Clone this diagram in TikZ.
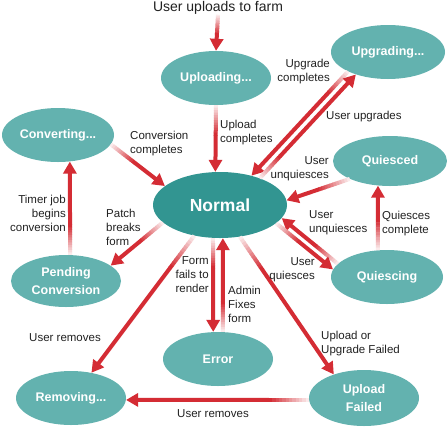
\documentclass[tikz,border=0pt]{standalone}
\usepackage{fontspec}
\setmainfont{Liberation Sans}
\usetikzlibrary{shapes.geometric,arrows.meta,calc}
\definecolor{tealL}{RGB}{99,178,175}
\definecolor{tealD}{RGB}{50,149,145}
\definecolor{arrred}{RGB}{212,44,52}
\definecolor{lbl}{RGB}{34,34,34}
\tikzset{
  st/.style={ellipse, fill=tealL, text=white, font=\bfseries\fontsize{12.5}{18}\selectfont,
    align=center, inner sep=0pt, minimum width=110pt, minimum height=54pt},
  lb/.style={text=lbl, font=\fontsize{11.5}{14}\selectfont, inner sep=0pt},
  arrline/.style={line width=4pt, draw=arrred, -{Triangle[length=12pt,width=13pt]}}
}
% fading arrow: optional fade length, start, end
\newcommand{\farr}[3][30]{%
  \foreach \i in {0,...,11}{%
    \pgfmathsetmacro{\ta}{#1*\i/12}%
    \pgfmathsetmacro{\tb}{#1*(\i+1)/12+0.4}%
    \pgfmathtruncatemacro{\pc}{10+90*\i/11}%
    \draw[line width=4pt, draw=arrred!\pc!white] ($(#2)!\ta pt!(#3)$) -- ($(#2)!\tb pt!(#3)$);
  }%
  \draw[arrline] ($(#2)!#1pt!(#3)$) -- (#3);
}
\begin{document}
\begin{tikzpicture}[x=1pt,y=-1pt]
\useasboundingbox[fill=white] (0,0) rectangle (447,432);
% states
\node[st] (up) at (216,78) {Uploading...};
\node[st, minimum width=114pt] (upg) at (388,52) {Upgrading...};
\node[st, minimum width=112pt] (conv) at (58,135) {Converting...};
\node[st, fill=tealD, minimum width=134pt, minimum height=66pt, font=\bfseries\fontsize{17.5}{20}\selectfont] (norm) at (220,205) {Normal};
\node[st, minimum width=114pt, minimum height=50pt] (quies) at (390,161) {Quiesced};
\node[st, minimum height=52pt] (pend) at (66,281) {Pending\\Conversion};
\node[st, minimum width=112pt] (qing) at (387,277) {Quiescing};
\node[st] (err) at (218,359) {Error};
\node[st] (rem) at (71,398) {Removing...};
\node[st, minimum height=56pt] (fail) at (364,398) {Upload\\Failed};
% title
\node[lb, font=\fontsize{14}{16}\selectfont] (ttl) at (218,8) {User uploads to farm};
% connectors
\farr[20]{ttl.south}{up.north}
\farr{up.south}{norm.98}
\farr{conv.350}{norm.161}
\farr{pend.81}{conv.294}
\farr{norm.197}{pend.19}
\farr[40]{norm.230}{rem.51}
\farr{norm.258}{err.100}
\farr{err.80}{norm.275}
\farr[40]{norm.302}{fail.142}
\farr[40]{fail.182}{rem.358}
\farr{upg.206}{norm.43}
\farr{norm.34}{upg.215}
\farr[35]{quies.204}{norm.4}
\farr{qing.109}{quies.244}
\farr{qing.165}{norm.348}
\farr{norm.342}{qing.172}
% labels
\node[lb, anchor=west, align=left] (l1) at (220,133) {Upload\\completes};
\node[lb, anchor=west, align=left] (l2) at (130,144) {Conversion\\completes};
\node[lb, anchor=east, align=right] (l3) at (66,213) {Timer job\\begins\\conversion};
\node[lb, anchor=west, align=left] (l4) at (106,227) {Patch\\breaks\\form};
\node[lb] (l5) at (65,338) {User removes};
\node[lb, anchor=east, align=right] (l6) at (209,275) {Form\\fails to\\render};
\node[lb, anchor=west, align=left] (l7) at (228,304) {Admin\\Fixes\\form};
\node[lb, anchor=west, align=left] (l8) at (321,344) {Upload or\\Upgrade Failed};
\node[lb] (l9) at (213,414) {User removes};
\node[lb, anchor=east, align=right] (l10) at (330,72) {Upgrade\\completes};
\node[lb, anchor=west] (l11) at (326,117) {User upgrades};
\node[lb, anchor=east, align=right] (l12) at (329,169) {User\\unquiesces};
\node[lb, anchor=west, align=left] (l13) at (382,224) {Quiesces\\complete};
\node[lb, anchor=west, align=left] (l14) at (309,223) {User\\unquiesces};
\node[lb, anchor=east, align=right] (l15) at (315,270) {User\\quiesces};
\end{tikzpicture}
\end{document}
